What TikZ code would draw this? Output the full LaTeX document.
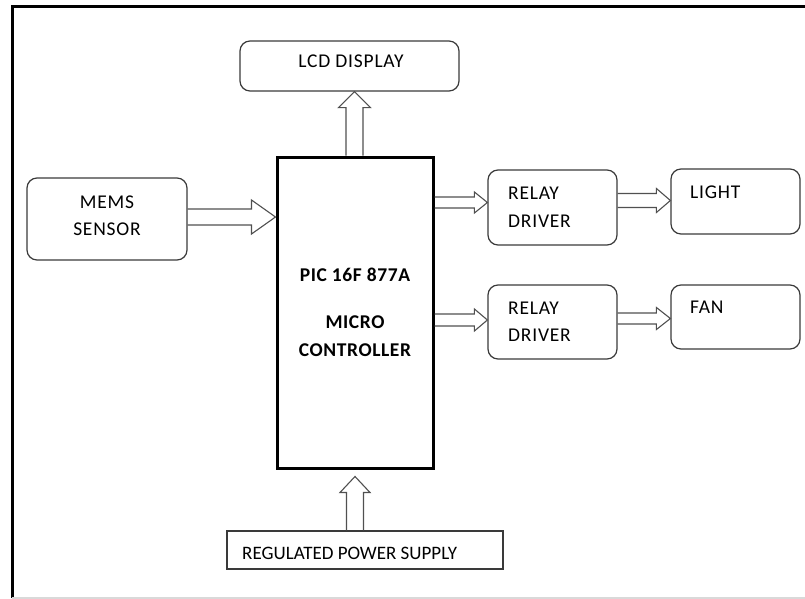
\documentclass[tikz,border=0pt]{standalone}
\usepackage{fontspec}
\setmainfont{Carlito}
\usetikzlibrary{calc}
\definecolor{boxline}{HTML}{3A3A3A}
\definecolor{arrline}{HTML}{505050}
\newcommand\blkarrH[5]{%
  \draw[blk] ($(#1)+(0,-#3)$) -- ($(#2)+(-#5,-#3)$) -- ($(#2)+(-#5,-#4)$) -- (#2)
    -- ($(#2)+(-#5,#4)$) -- ($(#2)+(-#5,#3)$) -- ($(#1)+(0,#3)$);}
\newcommand\blkarrV[5]{%
  \draw[blk] ($(#1)+(-#3,0)$) -- ($(#2)+(-#3,#5)$) -- ($(#2)+(-#4,#5)$) -- (#2)
    -- ($(#2)+(#4,#5)$) -- ($(#2)+(#3,#5)$) -- ($(#1)+(#3,0)$);}
\tikzset{
  rbox/.style={draw=boxline, line width=1.2pt, rounded corners=10pt, inner sep=0pt},
  sbox/.style={draw=boxline, line width=1.2pt, inner sep=0pt},
  mbox/.style={draw=black, line width=3pt, inner sep=0pt},
  blk/.style={draw=arrline, line width=1.1pt},
  txt/.style={inner sep=0pt, font=\fontsize{19.5}{23}\selectfont\addfontfeature{LetterSpace=4}, text=black},
  btxt/.style={inner sep=0pt, font=\fontsize{19.5}{23}\selectfont\bfseries\addfontfeature{LetterSpace=3}, text=black},
  ptxt/.style={inner sep=0pt, font=\fontsize{19}{23}\selectfont, text=black},
}
\begin{document}
\begin{tikzpicture}[x=1pt,y=-1pt]
\useasboundingbox (0,0) rectangle (805,599);
% frame
\draw[black, line width=3pt] (12,598) -- (12,6.5) -- (805,6.5);
\draw[black!15, line width=1.5pt] (12,598) -- (805,598);

% boxes
\node[rbox, minimum width=219pt, minimum height=50pt] (lcd) at (349.5,66) {};
\node[rbox, minimum width=160pt, minimum height=82pt] (mems) at (107,219) {};
\node[mbox, minimum width=156pt, minimum height=311pt] (mcu) at (355,312.5) {};
\node[rbox, minimum width=129pt, minimum height=75pt] (relay1) at (552.5,207.5) {};
\node[rbox, minimum width=129pt, minimum height=65pt] (light) at (735.5,201.5) {};
\node[rbox, minimum width=129pt, minimum height=74pt] (relay2) at (552.5,322) {};
\node[rbox, minimum width=129pt, minimum height=64pt] (fan) at (735.5,317) {};
\node[sbox, minimum width=276pt, minimum height=38pt] (power) at (365,550) {};

% texts
\node[txt, anchor=base] (tlcd) at (351,68) {LCD DISPLAY};
\node[txt, anchor=base] (tmems1) at (107,208) {MEMS};
\node[txt, anchor=base] (tmems2) at (107,235) {SENSOR};
\node[btxt, anchor=base] (tpic) at (355,281) {PIC 16F 877A};
\node[btxt, anchor=base] (tmicro) at (355,328) {MICRO};
\node[btxt, anchor=base] (tctrl) at (355,356) {CONTROLLER};
\node[txt, anchor=base west] (tr1a) at (508,199) {RELAY};
\node[txt, anchor=base west] (tr1b) at (508,227) {DRIVER};
\node[txt, anchor=base west] (tlight) at (690,198) {LIGHT};
\node[txt, anchor=base west] (tr2a) at (508,314) {RELAY};
\node[txt, anchor=base west] (tr2b) at (508,341) {DRIVER};
\node[txt, anchor=base west] (tfan) at (690,313) {FAN};
\node[ptxt, anchor=base west] (tpow) at (242,559) {REGULATED POWER SUPPLY};

% connector end points
\coordinate (a1s) at ($(mems.east)+(0,-2)$);
\coordinate (a1e) at (mcu.west |- a1s);
\coordinate (a2e) at ($(relay1.west)+(0,-5)$);
\coordinate (a2s) at (mcu.east |- a2e);
\coordinate (a3e) at ($(light.west)+(0,-1)$);
\coordinate (a3s) at (relay1.east |- a3e);
\coordinate (a4e) at ($(relay2.west)+(0,-2)$);
\coordinate (a4s) at (mcu.east |- a4e);
\coordinate (a5e) at ($(fan.west)+(0,1.5)$);
\coordinate (a5s) at (relay2.east |- a5e);
\coordinate (a6e) at ($(lcd.south)+(5,0)$);
\coordinate (a6s) at (a6e |- mcu.north);
\coordinate (a7e) at ($(mcu.south)+(0,7)$);
\coordinate (a7s) at (a7e |- power.north);

% block arrows
\blkarrH{a1s}{a1e}{8}{17}{24}
\blkarrH{a2s}{a2e}{5.5}{10.5}{13}
\blkarrH{a3s}{a3e}{7}{12}{14}
\blkarrH{a4s}{a4e}{6}{11}{13}
\blkarrH{a5s}{a5e}{5.5}{11}{14}
\blkarrV{a6s}{a6e}{8.5}{16}{16}
\blkarrV{a7s}{a7e}{8.5}{15}{16}
\end{tikzpicture}
\end{document}
